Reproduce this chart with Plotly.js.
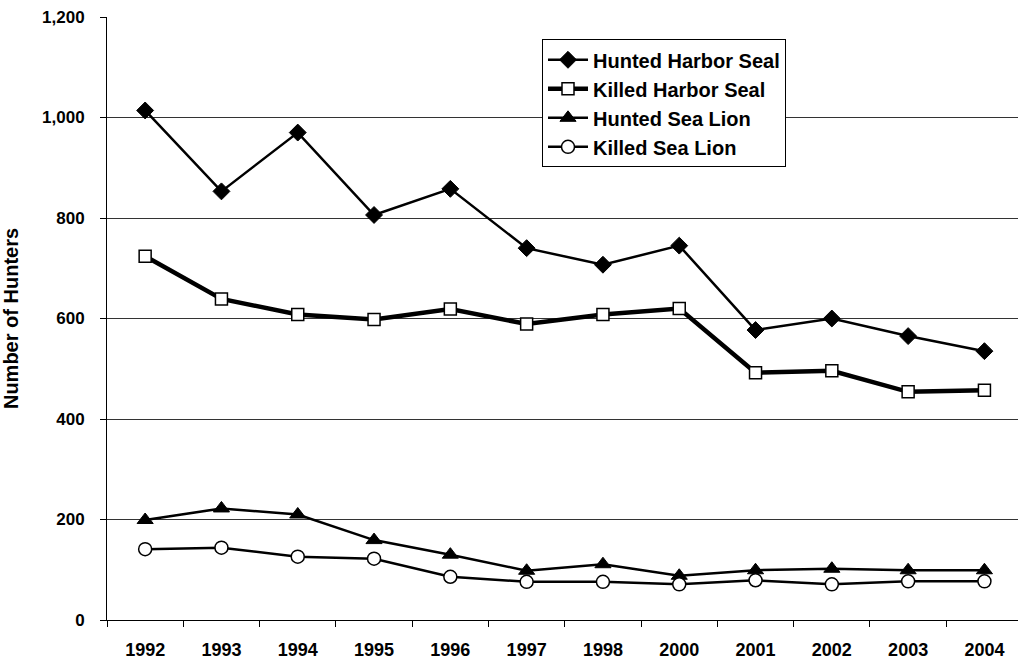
<!DOCTYPE html>
<html>
<head>
<meta charset="utf-8">
<script src="https://cdn.plot.ly/plotly-3.0.1.min.js"></script>
<style>html,body{margin:0;padding:0;background:#fff;}#chart{width:1018px;height:662px;}</style>
</head>
<body>
<div id="chart"></div>
<script>
var years = ["1992","1993","1994","1995","1996","1997","1998","2000","2001","2002","2003","2004"];
var huntedHarborSeal = [1014, 853, 970, 806, 858, 740, 707, 745, 577, 600, 565, 535];
var killedHarborSeal = [724, 639, 608, 598, 619, 589, 608, 620, 492, 496, 454, 457];
var huntedSeaLion = [199, 222, 210, 159, 130, 98, 111, 88, 99, 102, 99, 99];
var killedSeaLion = [141, 144, 126, 122, 86, 76, 76, 71, 79, 71, 77, 77];
var yTicks = [0, 200, 400, 600, 800, 1000, 1200];
var yTickText = ["0", "200", "400", "600", "800", "1,000", "1,200"];

var FONT = "Liberation Sans, Arial, sans-serif";
var traces = [
  {name: "Hunted Harbor Seal", y: huntedHarborSeal, legendgroup: "a",
   line: {color: "#000", width: 2.5},
   marker: {symbol: "diamond", size: 13, color: "#000", line: {color: "#000", width: 1}}},
  {name: "Killed Harbor Seal", y: killedHarborSeal, legendgroup: "b",
   line: {color: "#000", width: 4.5},
   marker: {symbol: "square", size: 12, color: "#fff", line: {color: "#000", width: 1.5}}},
  {name: "Hunted Sea Lion", y: huntedSeaLion, legendgroup: "c",
   line: {color: "#000", width: 2.5},
   marker: {symbol: "triangle-up", size: 14, color: "#000", line: {color: "#000", width: 1}}},
  {name: "Killed Sea Lion", y: killedSeaLion, legendgroup: "d",
   line: {color: "#000", width: 2.5},
   marker: {symbol: "circle", size: 13, color: "#fff", line: {color: "#000", width: 1.5}}}
].map(function (t) {
  t.x = years; t.type = "scatter"; t.mode = "lines+markers"; t.hoverinfo = "skip"; return t;
});

var layout = {
  width: 1018, height: 662,
  margin: {l: 107, r: 0, t: 17, b: 42},
  paper_bgcolor: "#fff", plot_bgcolor: "#fff",
  font: {family: FONT, color: "#000", size: 17},
  showlegend: true,
  legend: {
    x: 0.4775, y: 0.963, xanchor: "left", yanchor: "top",
    bgcolor: "#fff", bordercolor: "#000", borderwidth: 1,
    font: {family: FONT, size: 20, color: "#000", weight: "bold"},
    traceorder: "grouped", tracegroupgap: 0, itemwidth: 40
  },
  xaxis: {
    type: "category", range: [-0.5, 11.44],
    tickson: "boundaries", ticks: "outside", ticklen: 6, tickcolor: "#000", tickwidth: 1,
    showline: true, linecolor: "#000", linewidth: 1,
    showgrid: false, zeroline: false,
    ticklabelstandoff: 13,
    tickfont: {family: FONT, size: 18, weight: "bold"}
  },
  yaxis: {
    range: [0, 1200], tickvals: yTicks, ticktext: yTickText,
    ticks: "outside", ticklen: 6, tickcolor: "#000", tickwidth: 1,
    showline: true, linecolor: "#000", linewidth: 1,
    showgrid: true, gridcolor: "#333", gridwidth: 1, zeroline: false,
    ticklabelstandoff: 12,
    tickfont: {family: FONT, size: 17, weight: "bold"},
    title: {text: "Number of Hunters", font: {family: FONT, size: 20, weight: "bold"}, standoff: 18}
  }
};

Plotly.newPlot("chart", traces, layout, {displayModeBar: false, staticPlot: true});
</script>
</body>
</html>
